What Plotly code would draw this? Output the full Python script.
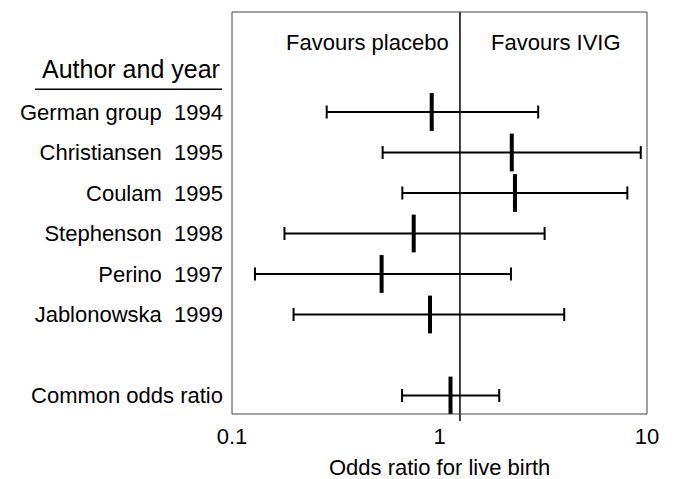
import math
import plotly.graph_objects as go

studies = ["German group\u00a0\u00a01994", "Christiansen\u00a0\u00a01995", "Coulam\u00a0\u00a01995",
           "Stephenson\u00a0\u00a01998", "Perino\u00a0\u00a01997", "Jablonowska\u00a0\u00a01999",
           "Common odds ratio"]
rows = [1, 2, 3, 4, 5, 6, 8]
odds_ratio = [0.917, 2.23, 2.31, 0.751, 0.526, 0.90, 1.13]
ci_low = [0.286, 0.532, 0.662, 0.179, 0.129, 0.198, 0.66]
ci_high = [2.99, 9.33, 8.04, 3.21, 2.21, 3.99, 1.94]
ref_line = 1.255
x_ticks = [0.1, 1, 10]
x_tick_text = ["0.1", "1", "10"]

FONT = "Liberation Sans, Arial, sans-serif"

fig = go.Figure()
fig.add_trace(go.Scatter(
    x=odds_ratio, y=rows, mode="markers",
    marker=dict(symbol="line-ns", size=27, color="black",
                line=dict(width=4, color="black")),
    error_x=dict(type="data", symmetric=False,
                 array=[h - c for h, c in zip(ci_high, odds_ratio)],
                 arrayminus=[c - l for c, l in zip(odds_ratio, ci_low)],
                 color="black", thickness=2, width=6.5),
    showlegend=False, hoverinfo="skip",
))

fig.add_shape(type="line", xref="x", yref="paper", x0=ref_line, x1=ref_line,
              y0=-0.0174, y1=1, line=dict(color="black", width=1.5))
fig.add_shape(type="rect", xref="paper", yref="paper", x0=0, x1=1, y0=0, y1=1,
              line=dict(color="#444", width=1))
fig.add_shape(type="line", xref="paper", yref="y", x0=-0.4747, x1=-0.0241,
              y0=0.44, y1=0.44, line=dict(color="black", width=1.5))

fig.add_annotation(text="Author and year", xref="paper", yref="y", x=-0.0241, y=-0.06,
                   xanchor="right", yanchor="middle", showarrow=False,
                   font=dict(size=25, family=FONT, color="black"))
fig.add_annotation(text="Favours placebo", xref="x", yref="paper", x=math.log10(ref_line),
                   y=0.923, xanchor="right", yanchor="middle", xshift=-9, showarrow=False,
                   font=dict(size=22, family=FONT, color="black"))
fig.add_annotation(text="Favours IVIG", xref="x", yref="paper", x=math.log10(ref_line),
                   y=0.923, xanchor="left", yanchor="middle", xshift=29, showarrow=False,
                   font=dict(size=22, family=FONT, color="black"))
fig.add_annotation(text="Odds ratio for live birth", xref="paper", yref="paper", x=0.5,
                   y=-0.134, xanchor="center", yanchor="middle", showarrow=False,
                   font=dict(size=22, family=FONT, color="black"))

fig.update_layout(
    width=677, height=479,
    margin=dict(l=232, r=30, t=12, b=65),
    paper_bgcolor="white", plot_bgcolor="white",
    font=dict(family=FONT, size=22, color="black"),
    xaxis=dict(type="log", range=[-1, 1], tickvals=x_ticks, ticktext=x_tick_text,
               showgrid=False, zeroline=False, showline=False, ticks="",
               ticklabelstandoff=7, automargin=False),
    yaxis=dict(range=[8.457, -1.469], tickvals=rows, ticktext=studies,
               showgrid=False, zeroline=False, showline=False, ticks="",
               ticklabelstandoff=8, automargin=False),
)

fig.write_html("out.html", config={"displayModeBar": False},
               post_script="document.body.style.margin='0';document.body.style.padding='0';")
